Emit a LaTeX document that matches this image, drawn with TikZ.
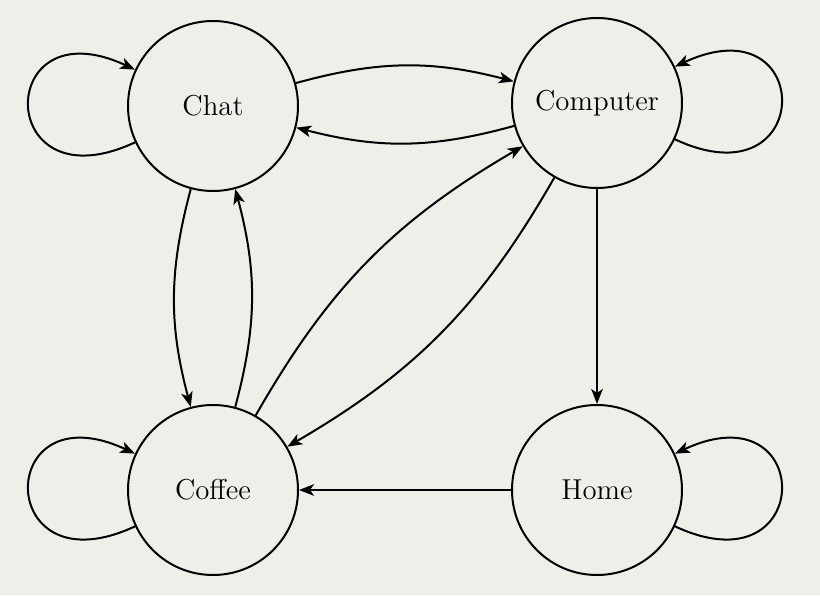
\documentclass[tikz,border=0pt]{standalone}
\usetikzlibrary{arrows.meta}
\definecolor{paper}{RGB}{240,238,233}
\tikzset{
  state/.style={draw, circle, line width=1pt, minimum size=85pt, inner sep=0pt, font=\Large},
  trans/.style={-{Stealth[length=7.5pt,width=5.8pt,inset=2pt]}, line width=1pt}
}
\begin{document}
\begin{tikzpicture}[x=0.5pt,y=0.5pt]
	\useasboundingbox [fill=paper] (0,0) rectangle (820,595);
	\node [state] (chat) at (213,489) {Chat};
	\node [state] (comp) at (597,492) {Computer};
	\node [state] (coffee) at (213,105) {Coffee};
	\node [state] (home) at (597,105) {Home};
	\draw [trans] (chat) to [bend left=15] (comp);
	\draw [trans] (comp) to [bend left=15] (chat);
	\draw [trans] (chat) to [bend right=15] (coffee);
	\draw [trans] (coffee) to [bend right=15] (chat);
	\draw [trans] (coffee) to [bend left=15] (comp);
	\draw [trans] (comp) to [bend left=15] (coffee);
	\draw [trans] (comp) -- (home);
	\draw [trans] (home) -- (coffee);
	\draw [trans] (chat) to [out=205,in=155,looseness=5.5] (chat);
	\draw [trans] (coffee) to [out=205,in=155,looseness=5.5] (coffee);
	\draw [trans] (comp) to [out=335,in=25,looseness=5.5] (comp);
	\draw [trans] (home) to [out=335,in=25,looseness=5.5] (home);
\end{tikzpicture}
\end{document}
